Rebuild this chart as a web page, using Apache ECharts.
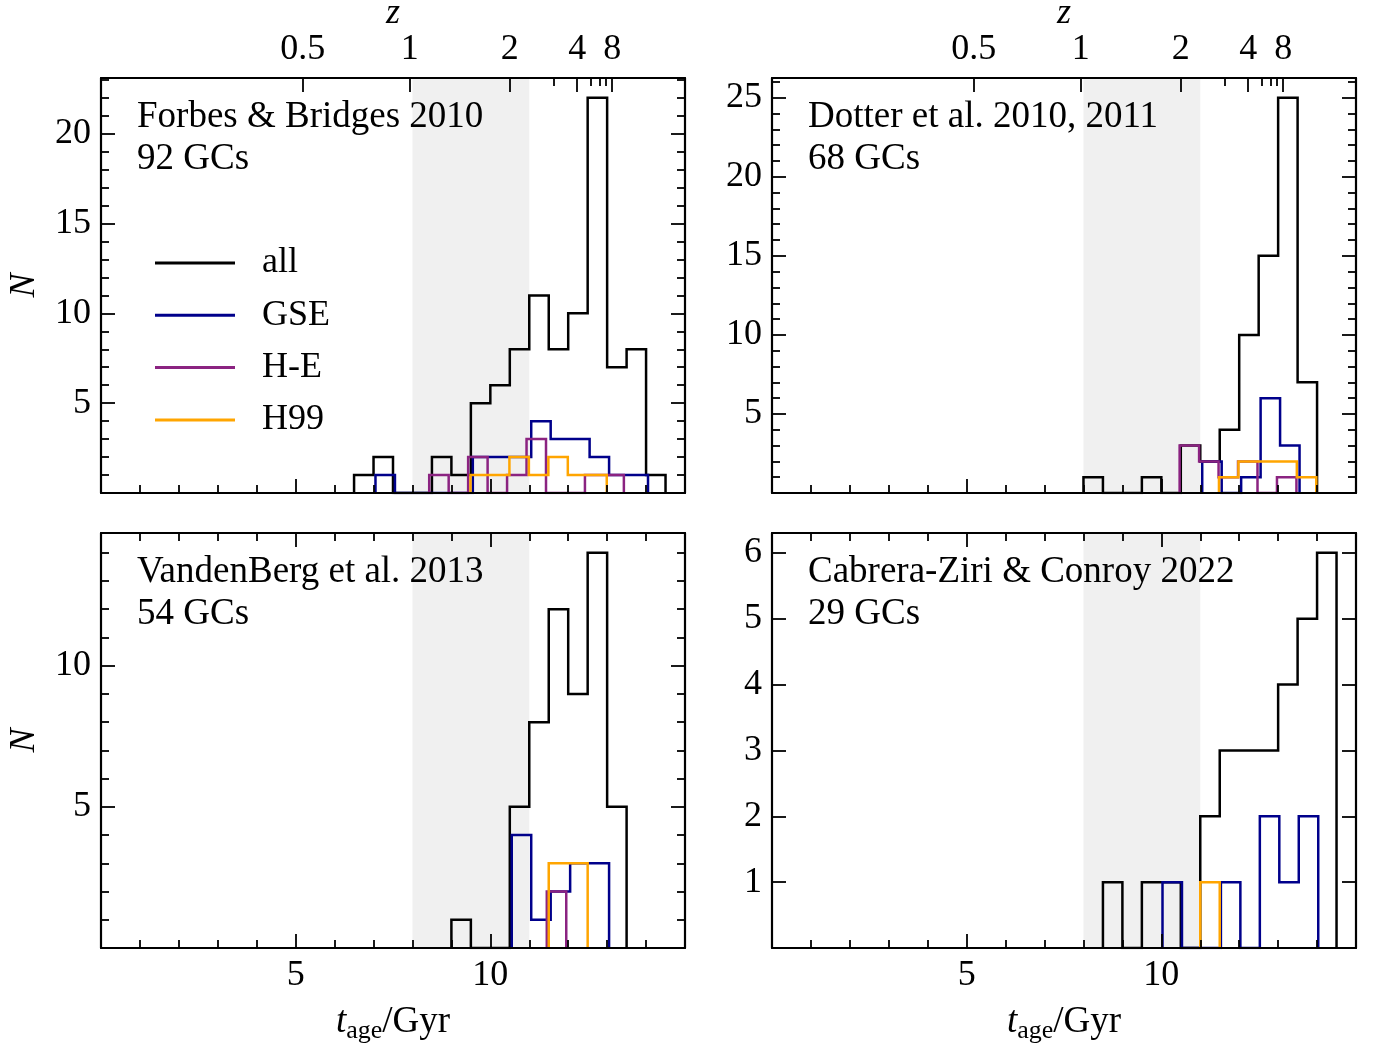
<!DOCTYPE html>
<html>
<head>
<meta charset="utf-8">
<script src="https://cdn.jsdelivr.net/npm/echarts@6/dist/echarts.min.js"></script>
<style>
  html, body { margin: 0; padding: 0; background: #fff; }
  #main { width: 1379px; height: 1046px; }
</style>
</head>
<body>
<div id="main"></div>
<script>
// groups and colours
var groupNames = ['all', 'GSE', 'H-E', 'H99'];
var groupColors = ['#000000', '#00008b', '#8b2381', '#ffa500'];

var panelTitles = ['Forbes & Bridges 2010', 'Dotter et al. 2010, 2011',
                   'VandenBerg et al. 2013', 'Cabrera-Ziri & Conroy 2022'];
var panelNumbers = ['92 GCs', '68 GCs', '54 GCs', '29 GCs'];

// histogram bins: width in Gyr, first edge of each group (all, GSE, H-E, H99)
var binWidth = 0.5;
var binStarts = [
    [6.5, 7.05, 8.43, 9.49],
    [8.0, 11.05, 10.47, 11.48],
    [9.0, 10.55, 11.45, 11.5],
    [8.5, 10.03, null, 11.0]
];

// counts per bin
var fbCounts = [
    [1, 2, 0, 0, 2, 1, 5, 6, 8, 11, 8, 10, 22, 7, 8, 1],
    [1, 0, 0, 0, 0, 2, 2, 2, 4, 3, 3, 2, 1, 1],
    [1, 0, 2, 0, 1, 3, 0, 0, 1, 1],
    [1, 1, 2, 1, 2, 1, 1]
];
var dotterCounts = [
    [1, 0, 0, 1, 0, 3, 2, 4, 10, 15, 25, 7],
    [2, 0, 1, 6, 3],
    [3, 2, 1, 2, 0, 1],
    [1, 2, 2, 2, 1]
];
var vdbCounts = [
    [1, 0, 0, 5, 8, 12, 9, 14, 5],
    [4, 1, 2, 3, 3],
    [2],
    [3, 3]
];
var czcCounts = [
    [1, 0, 1, 1, 0, 2, 3, 3, 3, 4, 5, 6],
    [1, 0, 0, 1, 0, 2, 1, 2],
    [],
    [1]
];
var panelCounts = [fbCounts, dotterCounts, vdbCounts, czcCounts];

// axes
var xRange = [0, 15];
var xMajor = [5, 10];
var xMinor = [1, 2, 3, 4, 6, 7, 8, 9, 11, 12, 13, 14];
var yMax = [23.1, 26.25, 14.7, 6.3];
var yMajor = [[5, 10, 15, 20], [5, 10, 15, 20, 25], [5, 10], [1, 2, 3, 4, 5, 6]];
var yHasMinor = [true, true, true, false];

// redshift axis (lookback time of each z tick)
var zLabels = ['0.5', '1', '2', '4', '8'];
var zMajorAges = [5.18, 7.93, 10.5, 12.23, 13.13];
var zMinorAges = [11.62, 12.58, 12.8, 12.97];

var shadeRange = [8, 11];

var FONT = "'Liberation Serif', 'DejaVu Serif', serif";
var FS = 36;
var gridPos = [[101, 78], [772, 78], [101, 533], [772, 533]];
var gridW = 584, gridH = 415;
var MAJOR = 14, MINOR = 8;

function stepPoints(start, counts) {
    var pts = [[start, 0]];
    for (var i = 0; i < counts.length; i++) {
        var x0 = start + i * binWidth;
        pts.push([x0, counts[i]]);
        pts.push([x0 + binWidth, counts[i]]);
    }
    pts.push([start + counts.length * binWidth, 0]);
    return pts;
}

function yMinorTicks(g) {
    var out = [];
    if (!yHasMinor[g]) return out;
    for (var v = 1; v < yMax[g]; v++) {
        if (yMajor[g].indexOf(v) < 0) out.push(v);
    }
    return out;
}

function tickAxis(base, values, len, showLine) {
    return Object.assign({
        type: 'value',
        z: 10,
        axisLine: {show: showLine, onZero: false, lineStyle: {color: '#000', width: 2.2}},
        axisTick: {show: true, inside: true, length: len, customValues: values,
                   lineStyle: {color: '#000', width: 1.8}},
        axisLabel: {show: false},
        splitLine: {show: false}
    }, base);
}

var grids = [], xAxes = [], yAxes = [], series = [], graphics = [];

for (var g = 0; g < 4; g++) {
    var isTop = g < 2;
    var isLeft = g % 2 === 0;
    grids.push({left: gridPos[g][0], top: gridPos[g][1], width: gridW, height: gridH,
                outerBoundsMode: 'none', containLabel: false});

    // bottom x axes
    var xb = tickAxis({gridIndex: g, position: 'bottom', min: xRange[0], max: xRange[1]}, xMajor, MAJOR, true);
    if (!isTop) {
        xb.axisLabel = {show: true, customValues: xMajor, margin: 10,
                        fontFamily: FONT, fontSize: FS, color: '#000'};
        xb.name = '{i|t}{s|age}{n|/Gyr}';
        xb.nameLocation = 'middle';
        xb.nameGap = 52;
        xb.nameTextStyle = {
            fontFamily: FONT, fontSize: 37, color: '#000',
            rich: {
                i: {fontFamily: FONT, fontSize: 37, fontStyle: 'italic', color: '#000'},
                s: {fontFamily: FONT, fontSize: 26, color: '#000', padding: [18, 0, 0, 0]},
                n: {fontFamily: FONT, fontSize: 37, color: '#000'}
            }
        };
    }
    xAxes.push(xb);
    xAxes.push(tickAxis({gridIndex: g, position: 'bottom', min: xRange[0], max: xRange[1]}, xMinor, MINOR, false));

    // top x axes
    var xt;
    if (isTop) {
        xt = tickAxis({gridIndex: g, position: 'top', min: xRange[0], max: xRange[1]}, zMajorAges, MAJOR, true);
        xt.axisLabel = {
            show: true, customValues: zMajorAges, margin: 10,
            fontFamily: FONT, fontSize: FS, color: '#000',
            formatter: function (v) {
                for (var k = 0; k < zMajorAges.length; k++) {
                    if (Math.abs(zMajorAges[k] - v) < 1e-6) return zLabels[k];
                }
                return '';
            }
        };
        xt.name = 'z';
        xt.nameLocation = 'middle';
        xt.nameGap = 44;
        xt.nameTextStyle = {fontFamily: FONT, fontSize: FS, fontStyle: 'italic', color: '#000'};
        xAxes.push(xt);
        xAxes.push(tickAxis({gridIndex: g, position: 'top', min: xRange[0], max: xRange[1]}, zMinorAges, MINOR, false));
    } else {
        xAxes.push(tickAxis({gridIndex: g, position: 'top', min: xRange[0], max: xRange[1]}, xMajor, MAJOR, true));
        xAxes.push(tickAxis({gridIndex: g, position: 'top', min: xRange[0], max: xRange[1]}, xMinor, MINOR, false));
    }

    // y axes
    var yl = tickAxis({gridIndex: g, position: 'left', min: 0, max: yMax[g]}, yMajor[g], MAJOR, true);
    yl.axisLabel = {show: true, customValues: yMajor[g], margin: 10,
                    fontFamily: FONT, fontSize: FS, color: '#000'};
    if (isLeft) {
        yl.name = 'N';
        yl.nameLocation = 'middle';
        yl.nameGap = 58;
        yl.nameTextStyle = {fontFamily: FONT, fontSize: FS, fontStyle: 'italic', color: '#000'};
    }
    yAxes.push(yl);
    yAxes.push(tickAxis({gridIndex: g, position: 'left', min: 0, max: yMax[g]}, yMinorTicks(g), MINOR, false));
    yAxes.push(tickAxis({gridIndex: g, position: 'right', min: 0, max: yMax[g]}, yMajor[g], MAJOR, true));
    yAxes.push(tickAxis({gridIndex: g, position: 'right', min: 0, max: yMax[g]}, yMinorTicks(g), MINOR, false));

    // shaded epoch
    series.push({
        type: 'line', xAxisIndex: 4 * g, yAxisIndex: 4 * g, z: 1,
        data: [], silent: true, symbol: 'none',
        markArea: {
            silent: true,
            itemStyle: {color: '#f0f0f0', opacity: 1},
            data: [[{xAxis: shadeRange[0]}, {xAxis: shadeRange[1]}]]
        }
    });

    // histograms
    for (var s = 0; s < groupNames.length; s++) {
        var counts = panelCounts[g][s];
        if (!counts.length) continue;
        series.push({
            name: groupNames[s],
            type: 'line',
            xAxisIndex: 4 * g, yAxisIndex: 4 * g,
            z: 2 + s,
            symbol: 'none',
            color: groupColors[s],
            lineStyle: {color: groupColors[s], width: 2.5, join: 'miter', cap: 'butt'},
            data: stepPoints(binStarts[g][s], counts)
        });
    }

    graphics.push({
        type: 'text',
        z: 100,
        left: gridPos[g][0] + 36,
        top: gridPos[g][1] + 18,
        style: {
            text: panelTitles[g] + '\n' + panelNumbers[g],
            fontFamily: FONT, fontSize: 37, lineHeight: 42, fill: '#000'
        }
    });
}

var chart = echarts.init(document.getElementById('main'));
chart.setOption({
    animation: false,
    backgroundColor: '#fff',
    grid: grids,
    xAxis: xAxes,
    yAxis: yAxes,
    series: series,
    graphic: graphics,
    legend: {
        data: groupNames,
        orient: 'vertical',
        left: 155,
        top: 243,
        padding: 0,
        itemWidth: 80,
        itemHeight: 3,
        itemGap: 12.3,
        icon: 'rect',
        selectedMode: false,
        textStyle: {fontFamily: FONT, fontSize: FS, color: '#000', lineHeight: 40,
                    padding: [0, 0, 0, 22]}
    }
});
</script>
</body>
</html>
